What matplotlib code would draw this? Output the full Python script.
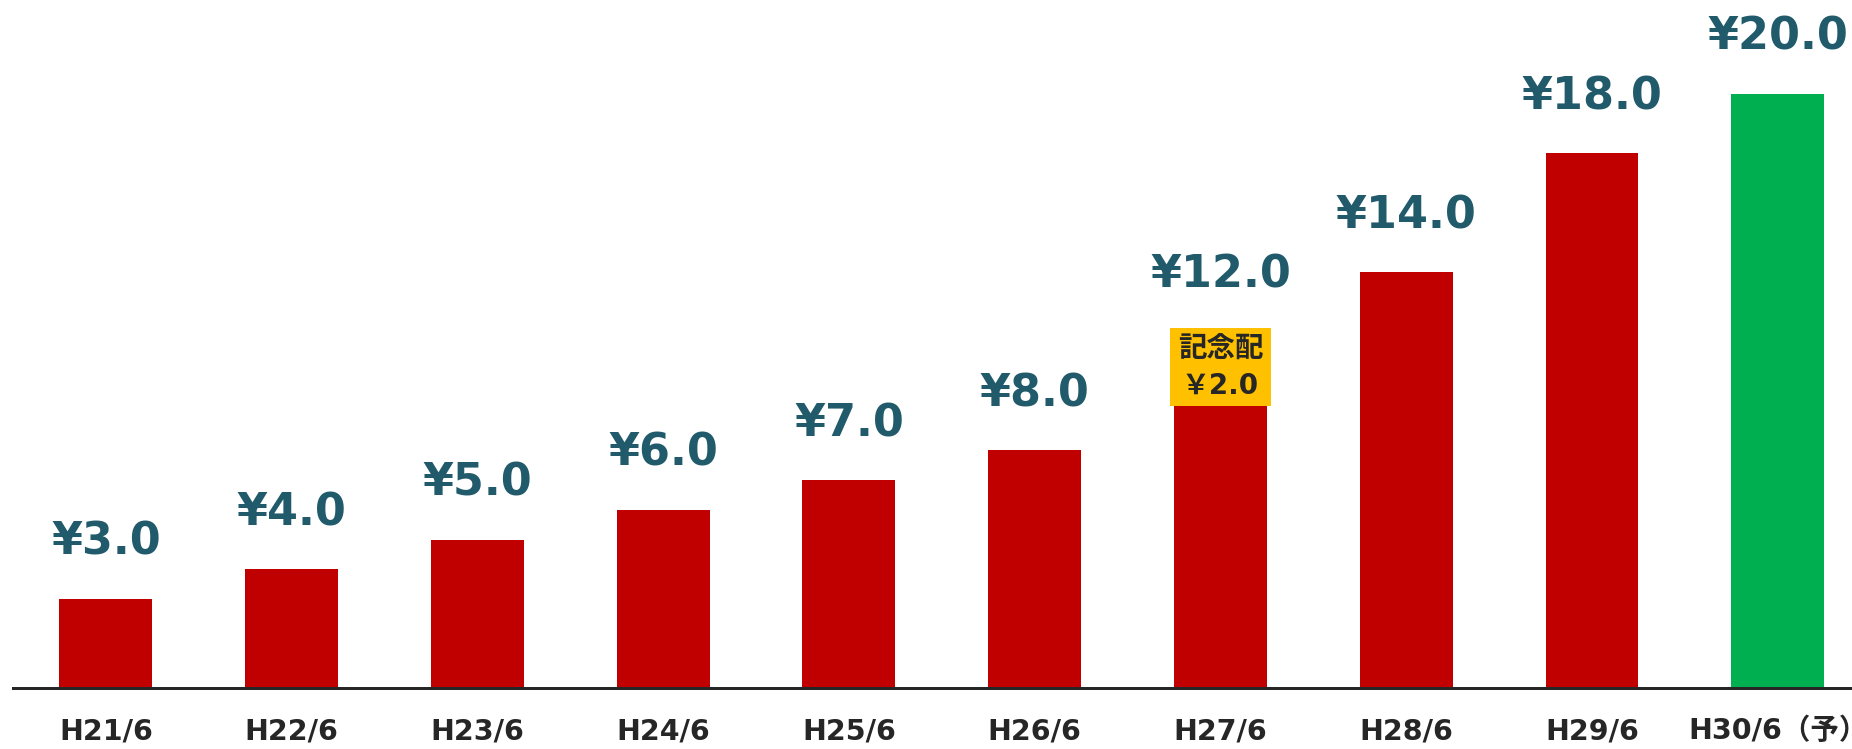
import matplotlib.pyplot as plt
from matplotlib.patches import Rectangle

# data
periods = ["H21/6", "H22/6", "H23/6", "H24/6", "H25/6",
           "H26/6", "H27/6", "H28/6", "H29/6", "H30/6（予）"]
dividends = [3.0, 4.0, 5.0, 6.0, 7.0, 8.0, 12.0, 14.0, 18.0, 20.0]
forecast = [False] * 9 + [True]
memo_index = 6
memo_lines = ["記念配", "￥2.0"]

RED = "#C00000"
GREEN = "#00B050"
TEAL = "#215B6B"
DARK = "#262626"
GOLD = "#FFC000"

DPI = 100
W, H = 1852, 749
fig = plt.figure(figsize=(W / DPI, H / DPI), dpi=DPI)
# axes placed in pixels: left 13, baseline 61 px from bottom, up to the top edge
ax = fig.add_axes([13 / W, 61 / H, (W - 13) / W, (H - 61) / H])

px = 72 / DPI  # points per pixel
x = list(range(len(periods)))
colors = [GREEN if f else RED for f in forecast]
ax.bar(x, dividends, width=0.5, color=colors, zorder=2)

ax.set_xlim(-0.5, 9.4)
ax.set_ylim(0, 688 / 29.7)

for s in ["top", "left", "right"]:
    ax.spines[s].set_visible(False)
ax.spines["bottom"].set_linewidth(3 * px)
ax.spines["bottom"].set_color(DARK)
ax.spines["bottom"].set_zorder(3)
ax.set_xticks([])
ax.set_yticks([])

# value labels above bars
for i, v in zip(x, dividends):
    ax.annotate(f"¥{v:.1f}", (i, v), xytext=(0, 44 * px), textcoords="offset points",
                ha="center", va="baseline", fontsize=32, fontweight="bold",
                color=TEAL, family="DejaVu Sans", annotation_clip=False)

# category labels under the axis
for i, lbl in zip(x, periods):
    ax.annotate(lbl, (i, 0), xytext=(0, -51 * px), textcoords="offset points",
                ha="center", va="baseline", fontsize=20.5, fontweight="bold",
                color=DARK, family=["DejaVu Sans", "Noto Sans CJK JP"],
                annotation_clip=False)

# commemorative dividend box on top of the H27 bar
bw, bh = 101 / 185.8, 78 / 29.7
cy = 321 / 29.7
ax.add_patch(Rectangle((memo_index - bw / 2, cy - bh / 2), bw, bh,
                       facecolor=GOLD, edgecolor="none", zorder=4))
ax.text(memo_index, 338 / 29.7, memo_lines[0], ha="center", va="center",
        fontsize=20.5, fontweight="bold", color=DARK, family="Noto Sans CJK JP", zorder=5)
ax.text(memo_index, 302.5 / 29.7, memo_lines[1], ha="center", va="center",
        fontsize=20, fontweight="bold", color=DARK,
        family=["DejaVu Sans", "Noto Sans CJK JP"], zorder=5)

fig.savefig("out.png", dpi=DPI)
